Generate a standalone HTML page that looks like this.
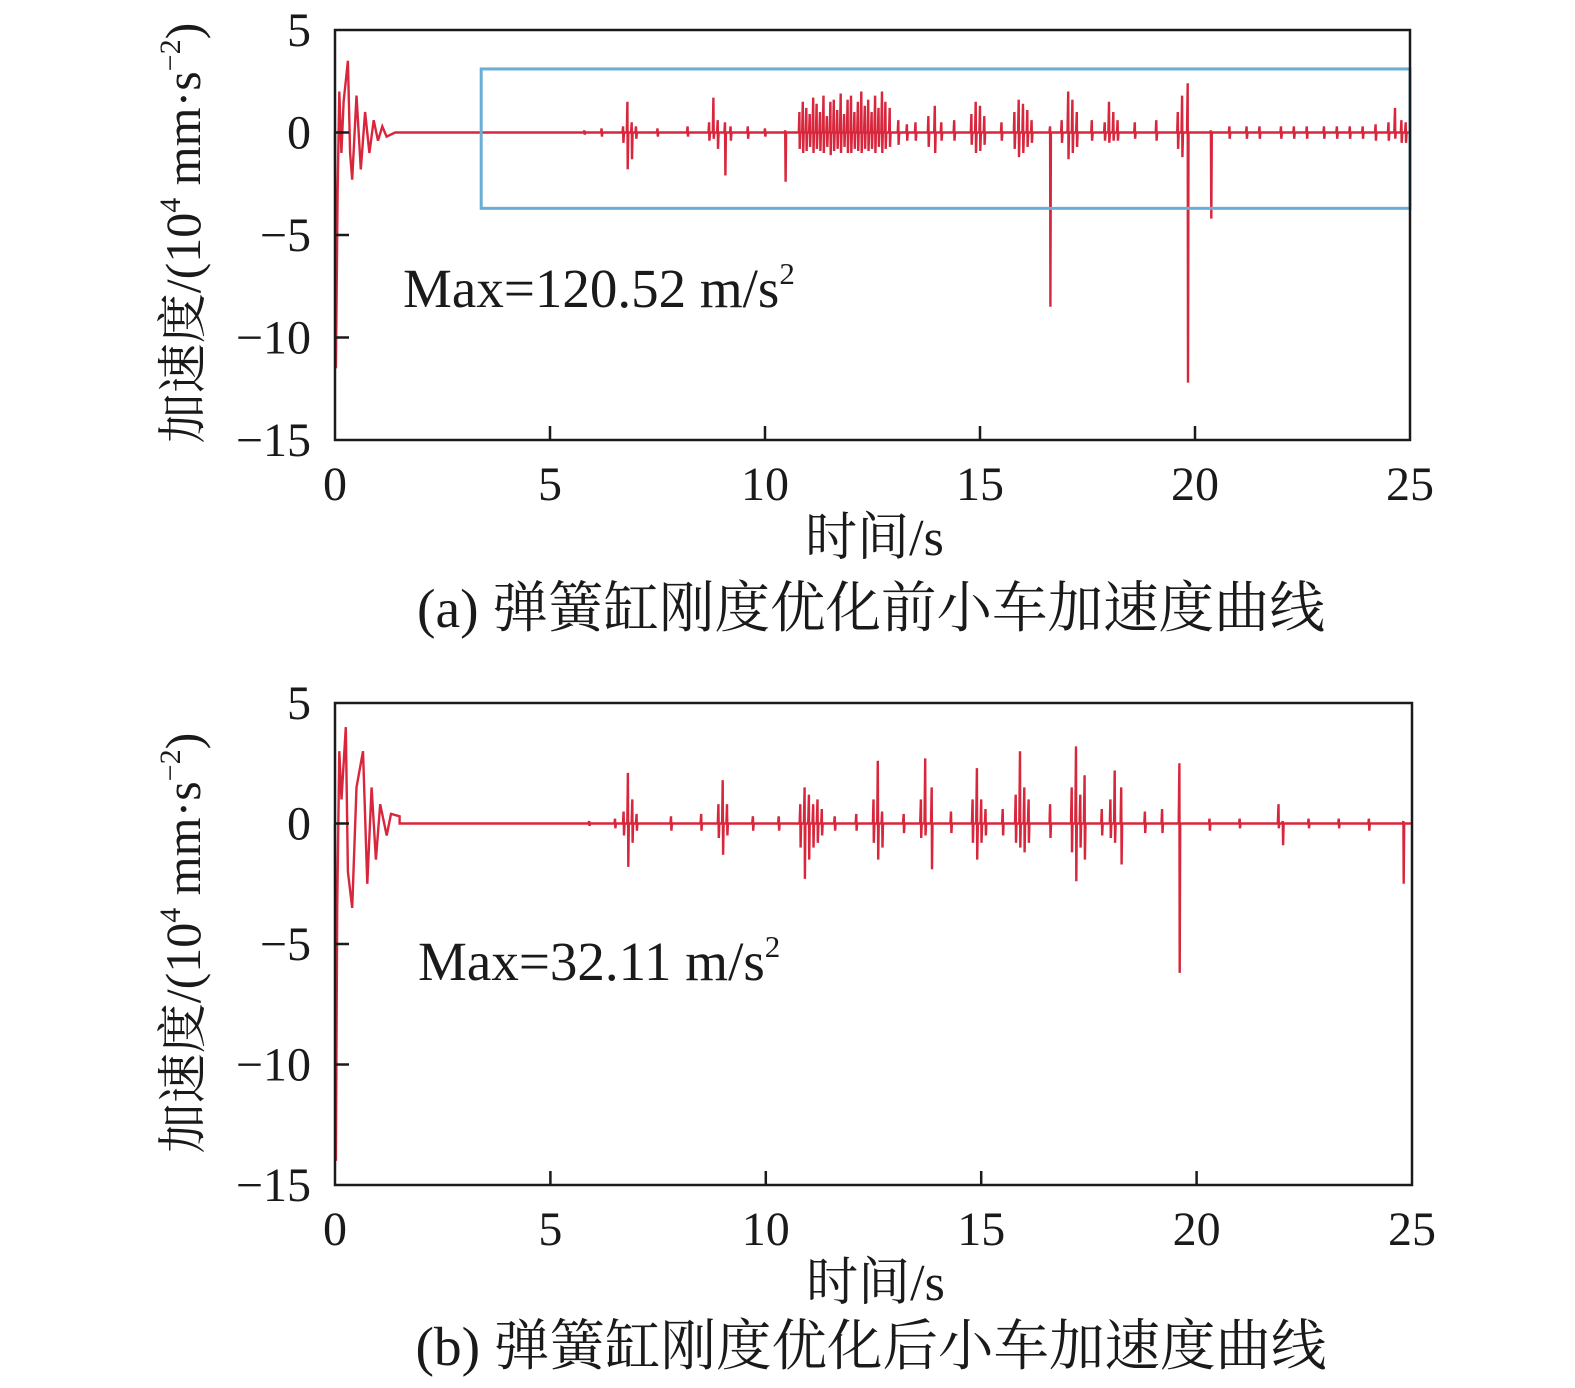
<!DOCTYPE html>
<html><head><meta charset="utf-8">
<style>
body{margin:0;background:#fff;}
svg{display:block;font-family:"Liberation Serif","Noto Serif CJK SC",serif;}
</style></head>
<body>
<svg id="fig" width="1575" height="1388" viewBox="0 0 1575 1388"></svg>
<script>
// ---- data (units: 10^4 mm/s^2, time in s) ----
const xTicks=[0,5,10,15,20,25];
const yTicks=[5,0,-5,-10,-15];
const yTickLabels=["5","0","\u22125","\u221210","\u221215"];
const oscTimesA=[0,0.02,0.06,0.1,0.15,0.2,0.3,0.35,0.4,0.5,0.6,0.7,0.8,0.9,1.0,1.1,1.2,1.4];
const oscValsA=[0,-11.5,-3,2,-1,1.5,3.5,-1,-2.3,1.8,-1.8,1,-1,0.6,-0.4,0.3,-0.2,0];
const spikeTimesA=[5.8,6.2,6.7,6.8,6.9,7.0,7.5,8.2,8.7,8.8,8.9,9.07,9.2,9.6,10.0,10.47,10.8,10.88,10.96,11.04,11.12,11.2,11.28,11.36,11.44,11.52,11.6,11.68,11.76,11.84,11.92,12.0,12.08,12.16,12.24,12.32,12.4,12.48,12.56,12.64,12.72,12.8,12.9,13.1,13.3,13.5,13.8,13.95,14.1,14.4,14.8,14.9,15.0,15.1,15.5,15.8,15.9,16.0,16.1,16.2,16.63,16.9,17.05,17.15,17.25,17.6,17.9,18.0,18.1,18.2,18.6,19.1,19.6,19.7,19.83,20.37,20.8,21.2,21.5,22.0,22.3,22.6,23.0,23.3,23.6,23.9,24.2,24.5,24.65,24.8,24.9];
const spikeHiA=[0.1,0.2,0.3,1.5,0.5,0.3,0.2,0.3,0.5,1.7,0.6,0.5,0.3,0.3,0.2,0.1,1.0,1.5,1.2,0.9,1.7,1.4,1.0,1.8,0.8,1.5,1.6,1.1,1.9,0.9,1.6,1.8,1.0,1.5,2.0,1.3,1.6,1.0,1.8,1.2,2.0,1.5,1.2,0.6,0.4,0.5,0.8,1.3,0.5,0.6,0.9,1.5,1.3,0.8,0.5,1.0,1.6,1.4,1.1,0.6,0.3,0.6,2.0,1.6,1.0,0.6,0.5,1.5,1.0,0.6,0.5,0.6,1.0,1.8,2.4,0.1,0.3,0.3,0.3,0.3,0.3,0.3,0.3,0.3,0.3,0.3,0.4,0.5,1.2,0.6,0.5];
const spikeLoA=[-0.1,-0.2,-0.5,-1.8,-1.3,-0.3,-0.2,-0.2,-0.4,-0.3,-0.8,-2.1,-0.4,-0.3,-0.2,-2.4,-0.8,-1.0,-0.9,-0.7,-1.0,-0.8,-0.9,-1.0,-0.7,-1.1,-0.9,-0.8,-1.0,-0.7,-1.0,-1.0,-0.8,-0.9,-1.0,-0.8,-0.9,-0.8,-1.0,-0.7,-1.0,-0.8,-0.7,-0.6,-0.4,-0.4,-0.7,-1.0,-0.4,-0.4,-0.6,-1.0,-0.9,-0.6,-0.4,-0.8,-1.2,-1.0,-0.7,-0.5,-8.5,-0.5,-1.3,-1.0,-0.7,-0.4,-0.4,-0.5,-0.4,-0.4,-0.3,-0.4,-0.8,-1.2,-12.2,-4.2,-0.3,-0.3,-0.3,-0.3,-0.3,-0.3,-0.3,-0.3,-0.3,-0.3,-0.4,-0.4,-0.3,-0.5,-0.5];
const oscTimesB=[0,0.02,0.05,0.1,0.15,0.25,0.3,0.4,0.5,0.65,0.75,0.85,0.95,1.05,1.2,1.3,1.5];
const oscValsB=[0,-14,-3.5,3,1,4,-2,-3.5,1.5,3,-2.5,1.5,-1.5,0.8,-0.5,0.4,0.3];
const spikeTimesB=[5.9,6.5,6.7,6.8,6.9,7.0,7.8,8.5,8.9,9.0,9.1,9.7,10.3,10.8,10.9,11.0,11.1,11.2,11.3,11.6,12.1,12.5,12.6,12.7,13.2,13.6,13.7,13.85,14.3,14.8,14.9,15.0,15.1,15.5,15.8,15.9,16.0,16.1,16.6,17.1,17.2,17.3,17.4,17.8,18.0,18.1,18.25,18.8,19.2,19.6,20.3,21.0,21.9,22.0,22.6,23.3,24.0,24.8];
const spikeHiB=[0.1,0.2,0.5,2.1,1.0,0.4,0.3,0.4,0.8,1.8,0.8,0.3,0.3,0.8,1.5,1.2,0.8,1.0,0.6,0.3,0.4,1.0,2.6,0.5,0.4,1.0,2.7,1.5,0.5,1.0,2.3,1.0,0.6,0.6,1.2,3.0,1.5,1.0,0.8,1.5,3.2,1.2,2.0,0.6,1.0,2.2,1.5,0.5,0.6,2.5,0.2,0.2,0.8,0.1,0.2,0.2,0.2,0.1];
const spikeLoB=[-0.1,-0.2,-0.5,-1.8,-0.8,-0.3,-0.3,-0.3,-0.6,-1.3,-0.5,-0.3,-0.3,-1.0,-2.3,-1.5,-1.0,-0.8,-0.5,-0.3,-0.3,-0.8,-1.5,-1.0,-0.4,-0.6,-0.5,-1.9,-0.4,-0.8,-1.5,-0.8,-0.5,-0.5,-0.8,-1.0,-1.2,-0.8,-0.6,-1.2,-2.4,-1.0,-1.5,-0.5,-0.6,-0.8,-1.7,-0.4,-0.4,-6.2,-0.3,-0.2,-0.2,-0.9,-0.2,-0.2,-0.3,-2.5];

const NS="http://www.w3.org/2000/svg";
const svg=document.getElementById('fig');
function mk(tag,attrs,parent){const e=document.createElementNS(NS,tag);for(const k in attrs)e.setAttribute(k,attrs[k]);(parent||svg).appendChild(e);return e;}

function chart(cfg){
  const g=mk('g',{});
  
  
  const L=cfg.L,R=cfg.R,T=cfg.T,B=cfg.B;
  const xs=t=>L+(t-0)/(25-0)*(R-L);
  const ys=v=>T+(5-v)/(20)*(B-T);
  let pts=[];
  for(let i=0;i<cfg.ot.length;i++)pts.push([xs(cfg.ot[i]),ys(cfg.ov[i])]);
  pts.push([xs(cfg.ot[cfg.ot.length-1]),ys(0)]);
  for(let i=0;i<cfg.st.length;i++){
    const t=cfg.st[i];
    pts.push([xs(t-0.015),ys(0)]);
    pts.push([xs(t),ys(cfg.sh[i])]);
    pts.push([xs(t+0.008),ys(cfg.sl[i])]);
    pts.push([xs(t+0.02),ys(0)]);
  }
  pts.push([xs(25),ys(0)]);
  const sig=mk('path',{d:'M'+pts.map(p=>p[0].toFixed(1)+','+p[1].toFixed(1)).join('L'),fill:'none',stroke:'#d8263c','stroke-width':2.4},g);
  
  
  if(cfg.box){
    const b=mk('rect',{x:xs(3.4),y:ys(3.1),width:R-xs(3.4),height:ys(-3.7)-ys(3.1),fill:'none',stroke:'#6aaed6','stroke-width':3},g);
    
    
  }
  const frame=mk('rect',{x:L,y:T,width:R-L,height:B-T,fill:'none',stroke:'#1a1a1a','stroke-width':2.5},g);
  
  
  xTicks.forEach(t=>{
    const x=xs(t);
    if(t>0&&t<25){const tk=mk('line',{x1:x,x2:x,y1:B,y2:B-14,stroke:'#1a1a1a','stroke-width':2.5},g);
      }
    const lb=mk('text',{x:x,y:B+60,'text-anchor':'middle','font-size':48,fill:'#1a1a1a'},g);
    lb.textContent=t;
    
    
  });
  yTicks.forEach((v,i)=>{
    const y=ys(v);
    if(v<5&&v>-15){const tk=mk('line',{x1:L,x2:L+14,y1:y,y2:y,stroke:'#1a1a1a','stroke-width':2.5},g);
      }
    const lb=mk('text',{x:L-24,y:y+16,'text-anchor':'end','font-size':48,fill:'#1a1a1a'},g);
    lb.textContent=yTickLabels[i];
    
    
  });
  const xt=mk('text',{x:(L+R)/2+2,y:B+115,'text-anchor':'middle','font-size':52,fill:'#1a1a1a'},g);
  xt.textContent='时间/s';
  
  
  const cy=cfg.titleCY;
  const yt=mk('text',{x:0,y:0,transform:`translate(200,${cy}) rotate(-90)`,'text-anchor':'middle','font-size':50,fill:'#1a1a1a'},g);
  yt.innerHTML='加速度/(10<tspan font-size="30" dy="-20">4</tspan><tspan dy="20"> mm·s</tspan><tspan font-size="30" dy="-20">−2</tspan><tspan dy="20">)</tspan>';
  
  
  const mx=mk('text',{x:cfg.maxX,y:cfg.maxY,'font-size':55,fill:'#1a1a1a'},g);
  mx.innerHTML=cfg.maxText+'<tspan font-size="31" dy="-23">2</tspan>';
  
  
  const cap=mk('text',{x:871,y:cfg.capY,'text-anchor':'middle','font-size':55.5,fill:'#1a1a1a'},g);
  cap.textContent=cfg.caption;
  
  
}
chart({name:'chart-a',L:335,R:1410,T:30,B:440,titleCY:233,ot:oscTimesA,ov:oscValsA,st:spikeTimesA,sh:spikeHiA,sl:spikeLoA,box:true,
  maxX:403,maxY:307,maxText:'Max=120.52 m/s',capY:627,caption:'(a) 弹簧缸刚度优化前小车加速度曲线'});
chart({name:'chart-b',L:335,R:1412,T:703,B:1185,titleCY:943,ot:oscTimesB,ov:oscValsB,st:spikeTimesB,sh:spikeHiB,sl:spikeLoB,box:false,
  maxX:418,maxY:980,maxText:'Max=32.11 m/s',capY:1365,caption:'(b) 弹簧缸刚度优化后小车加速度曲线'});
</script>
</body></html>
